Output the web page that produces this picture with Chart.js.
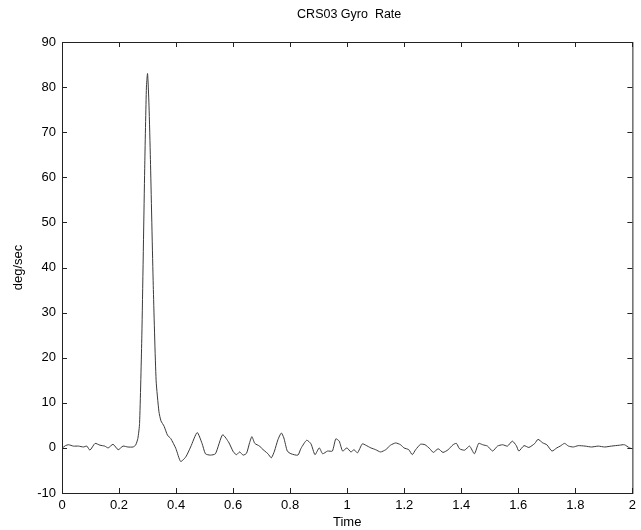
<!DOCTYPE html>
<html>
<head>
<meta charset="utf-8">
<script src="https://cdn.jsdelivr.net/npm/chart.js@4.4.1/dist/chart.umd.min.js"></script>
<style>
  html, body { margin: 0; padding: 0; background: #fff; }
  #wrap { width: 641px; height: 530px; position: relative; }
</style>
</head>
<body>
<div id="wrap"><canvas id="gyroChart"></canvas></div>
<script>
// Sample times (s) and gyro rate (deg/sec)
const timeValues = [
  0, 0.012, 0.023, 0.04, 0.058, 0.075, 0.087, 0.098, 0.116, 0.133,
  0.15, 0.162, 0.179, 0.197, 0.214, 0.231, 0.249, 0.258, 0.266, 0.272,
  0.28, 0.29, 0.296, 0.30, 0.305, 0.31, 0.32, 0.33, 0.34, 0.347,
  0.358, 0.37, 0.381, 0.399, 0.416, 0.434, 0.451, 0.474, 0.491, 0.503,
  0.52, 0.538, 0.563, 0.584, 0.601, 0.612, 0.623, 0.635, 0.647, 0.658,
  0.666, 0.676, 0.693, 0.70, 0.722, 0.734, 0.745, 0.757, 0.769, 0.778,
  0.79, 0.803, 0.827, 0.838, 0.858, 0.873, 0.887, 0.902, 0.914, 0.931,
  0.948, 0.96, 0.972, 0.984, 0.999, 1.013, 1.024, 1.036, 1.053, 1.065,
  1.083, 1.10, 1.117, 1.135, 1.152, 1.17, 1.187, 1.199, 1.216, 1.228,
  1.24, 1.257, 1.273, 1.29, 1.302, 1.319, 1.336, 1.354, 1.371, 1.383,
  1.394, 1.412, 1.429, 1.446, 1.461, 1.475, 1.492, 1.51, 1.527, 1.545,
  1.562, 1.579, 1.593, 1.602, 1.62, 1.637, 1.658, 1.669, 1.686, 1.70,
  1.718, 1.735, 1.747, 1.762, 1.776, 1.793, 1.81, 1.834, 1.857, 1.88,
  1.903, 1.926, 1.955, 1.972, 1.99, 2.0
];
const rateValues = [
  -0.1, 0.5, 0.7, 0.4, 0.4, 0.2, 0.4, -0.5, 1.0, 0.6,
  0.4, 0, 0.8, -0.4, 0.4, 0.2, 0.2, 0.6, 2.1, 5.4,
  25, 62, 80, 83, 76, 64, 36, 15, 8, 6.0,
  4.8, 2.8, 2.1, -0.1, -3.0, -2.0, 0.2, 3.4, 1.0, -1.3,
  -1.6, -1.3, 2.9, 1.3, -0.9, -1.5, -0.9, -1.6, -1.2, 1.2,
  2.5, 1.0, 0.4, -0.1, -1.3, -2.2, -0.7, 1.8, 3.3, 2.2,
  -0.7, -1.3, -1.6, -0.1, 1.7, 0.9, -1.5, 0, -1.3, -0.7,
  -0.7, 2.0, 1.5, -0.7, 0, -0.9, -0.4, -1.1, 0.9, 0.6,
  0, -0.4, -0.9, -0.4, 0.6, 1.1, 0.7, 0, -0.4, -1.5,
  -0.4, 0.8, 0.7, -0.2, -1.0, -0.2, -1.0, -0.4, 0.7, 1.0,
  -0.2, -0.5, 0.4, -1.3, 1.0, 0.7, 0.4, -0.7, 0.4, 0.7,
  0.4, 1.5, 0.5, -0.7, 0.5, 0.1, 1.0, 1.9, 1.1, 0.7,
  -0.7, 0, 0.4, 1.0, 0.4, 0.2, 0.5, 0.4, 0.2, 0.4,
  0.2, 0.4, 0.6, 0.7, 0, -0.2
];

// Axis ticks
const xTicks = [0, 0.2, 0.4, 0.6, 0.8, 1, 1.2, 1.4, 1.6, 1.8, 2];
const yTicks = [-10, 0, 10, 20, 30, 40, 50, 60, 70, 80, 90];

const chartTitle = 'CRS03 Gyro  Rate';
const FONT = 'Liberation Sans, Arial, Helvetica, sans-serif';

// -------------------------------------------------------------
// Box around plot, inward tick marks on all sides, title over plot
// -------------------------------------------------------------
const boxPlugin = {
  id: 'boxTicks',
  afterDraw(chart) {
    const { ctx, chartArea: a, scales } = chart;
    ctx.save();
    ctx.strokeStyle = '#222';
    ctx.lineWidth = 1;
    ctx.strokeRect(a.left + 0.5, a.top + 0.5, a.right - a.left, a.bottom - a.top);
    ctx.beginPath();
    xTicks.forEach((v) => {
      const x = Math.round(scales.x.getPixelForValue(v)) + 0.5;
      ctx.moveTo(x, a.bottom); ctx.lineTo(x, a.bottom - 5);
      ctx.moveTo(x, a.top); ctx.lineTo(x, a.top + 5);
    });
    yTicks.forEach((v) => {
      const y = Math.round(scales.y.getPixelForValue(v)) + 0.5;
      ctx.moveTo(a.left, y); ctx.lineTo(a.left + 5, y);
      ctx.moveTo(a.right, y); ctx.lineTo(a.right - 5, y);
    });
    ctx.stroke();

    // title centred over the plot area
    ctx.fillStyle = '#000';
    ctx.font = '12.5px ' + FONT;
    ctx.textAlign = 'center';
    ctx.textBaseline = 'middle';
    ctx.fillText(chartTitle, (a.left + a.right) / 2 + 2, 15);
    ctx.restore();
  }
};

const points = timeValues.map((t, i) => ({ x: t, y: rateValues[i] }));

new Chart(document.getElementById('gyroChart'), {
  type: 'line',
  data: {
    datasets: [{
      data: points,
      borderColor: '#3a3a3a',
      borderWidth: 1,
      pointRadius: 0,
      tension: 0.2,
      fill: false
    }]
  },
  options: {
    responsive: true,
    maintainAspectRatio: false,
    animation: false,
    layout: { padding: { top: 42, right: 8, bottom: 0, left: 0 } },
    plugins: {
      legend: { display: false },
      tooltip: { enabled: false },
      title: { display: false }
    },
    scales: {
      x: {
        type: 'linear',
        min: 0,
        max: 2,
        afterBuildTicks: (scale) => { scale.ticks = xTicks.map((v) => ({ value: v })); },
        afterFit: (scale) => { scale.height = 37; },
        grid: { display: false, drawTicks: false },
        border: { display: false },
        ticks: {
          color: '#000',
          padding: 5,
          maxRotation: 0,
          font: { family: FONT, size: 13 },
          callback: (v) => String(Number(v.toFixed(1)))
        },
        title: {
          display: true,
          text: 'Time',
          color: '#000',
          padding: { top: 0, bottom: 0 },
          font: { family: FONT, size: 13 }
        }
      },
      y: {
        type: 'linear',
        min: -10,
        max: 90,
        afterBuildTicks: (scale) => { scale.ticks = yTicks.map((v) => ({ value: v })); },
        afterFit: (scale) => { scale.width = 62; },
        grid: { display: false, drawTicks: false },
        border: { display: false },
        ticks: {
          color: '#000',
          padding: 6,
          font: { family: FONT, size: 13 }
        },
        title: {
          display: true,
          text: 'deg/sec',
          color: '#000',
          padding: { top: 11, bottom: 0 },
          font: { family: FONT, size: 13 }
        }
      }
    }
  },
  plugins: [boxPlugin]
});
</script>
</body>
</html>
